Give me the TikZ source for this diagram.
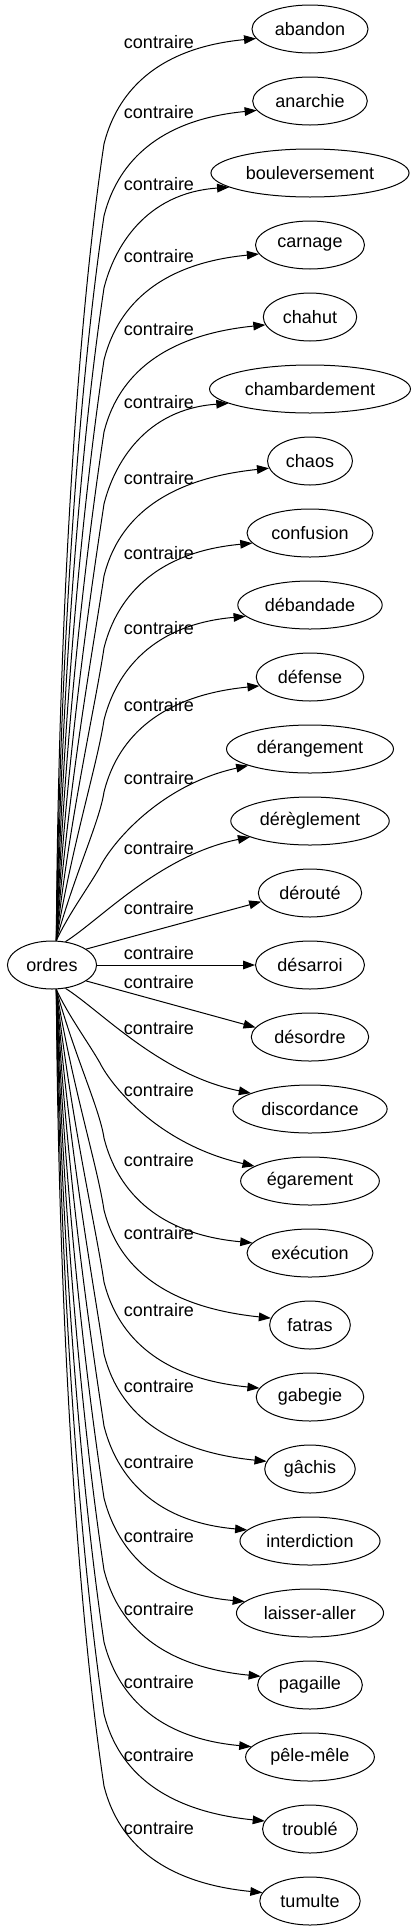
\documentclass[tikz,border=0pt]{standalone}
\usepackage{fontspec}
\setmainfont{Liberation Sans}
\usepackage{tikz}
\usetikzlibrary{arrows.meta,shapes.geometric}
\tikzstyle{term} = [ellipse, draw, line width=0.75pt, minimum height=36pt, inner xsep=4.5pt, inner ysep=2pt]
\tikzstyle{edgelabel} = [inner sep=0pt]
\tikzstyle{arrow} = [line width=0.75pt, -{Triangle[length=9pt,width=6.5pt]}]

\begin{document}
\begin{tikzpicture}[x=0.75pt, y=-0.75pt, font=\fontsize{13.5pt}{16pt}\selectfont]
\useasboundingbox (0,0) rectangle (413,1931);

\node[term] (ordres) at (52,965) {ordres};

% target words and their edge labels
\foreach \key/\word/\ly [count=\n from 0] in {
  abandon/abandon/42, anarchie/anarchie/112, bouleversement/bouleversement/184,
  carnage/carnage/256, chahut/chahut/329, chambardement/chambardement/402,
  chaos/chaos/478, confusion/confusion/553, debandade/débandade/628,
  defense/défense/705, derangement/dérangement/778, dereglement/dérèglement/848,
  deroute/dérouté/908, desarroi/désarroi/953, desordre/désordre/982,
  discordance/discordance/1028, egarement/égarement/1090, execution/exécution/1160,
  fatras/fatras/1233, gabegie/gabegie/1310, gachis/gâchis/1386,
  interdiction/interdiction/1462, laisseraller/laisser-aller/1536, pagaille/pagaille/1609,
  pelemele/pêle-mêle/1682, trouble/troublé/1755, tumulte/tumulte/1828} {
  \node[term] (\key) at (310,{29+72*\n}) {\word};
  \node[edgelabel] (lab\key) at (159,\ly) {contraire};
}

% long edges going up
\foreach \key [count=\n from 0] in {abandon,anarchie,bouleversement,carnage,chahut,
  chambardement,chaos,confusion,debandade,defense} {
  \pgfmathsetmacro\ty{29+72*\n}
  \pgfmathsetmacro\my{\ty+115}
  \pgfmathsetmacro\dd{941-\my}
  \draw[arrow] (ordres.80) .. controls ({77.6-0.024*\dd},{941-0.44*\dd}) and ({104-0.03*\dd},{\my+0.2*\dd}) .. (104,\my)
    .. controls (114,{\ty+75}) and (145,{\ty+20}) .. (\key.190);
}

% long edges going down
\foreach \key [count=\n from 17] in {execution,fatras,gabegie,gachis,
  interdiction,laisseraller,pagaille,pelemele,trouble,tumulte} {
  \pgfmathsetmacro\ty{29+72*\n}
  \pgfmathsetmacro\my{\ty-115}
  \pgfmathsetmacro\dd{\my-989}
  \draw[arrow] (ordres.280) .. controls ({77.6-0.024*\dd},{989+0.44*\dd}) and ({104-0.03*\dd},{\my-0.2*\dd}) .. (104,\my)
    .. controls (114,{\ty-75}) and (145,{\ty-20}) .. (\key.170);
}

% short edges
\draw[arrow] (ordres.80) .. controls (68,915) and (88,888) .. (100,867)
  .. controls (112,843) and (160,785) .. (derangement.195);
\draw[arrow] (ordres.60) .. controls (100,920) and (160,855) .. (dereglement.195);
\draw[arrow] (ordres.25) -- (deroute.190);
\draw[arrow] (ordres.east) -- (desarroi.west);
\draw[arrow] (ordres.335) -- (desordre.170);
\draw[arrow] (ordres.300) .. controls (100,1010) and (160,1075) .. (discordance.165);
\draw[arrow] (ordres.280) .. controls (68,1015) and (88,1042) .. (100,1063)
  .. controls (112,1087) and (160,1145) .. (egarement.165);
\end{tikzpicture}
\end{document}
